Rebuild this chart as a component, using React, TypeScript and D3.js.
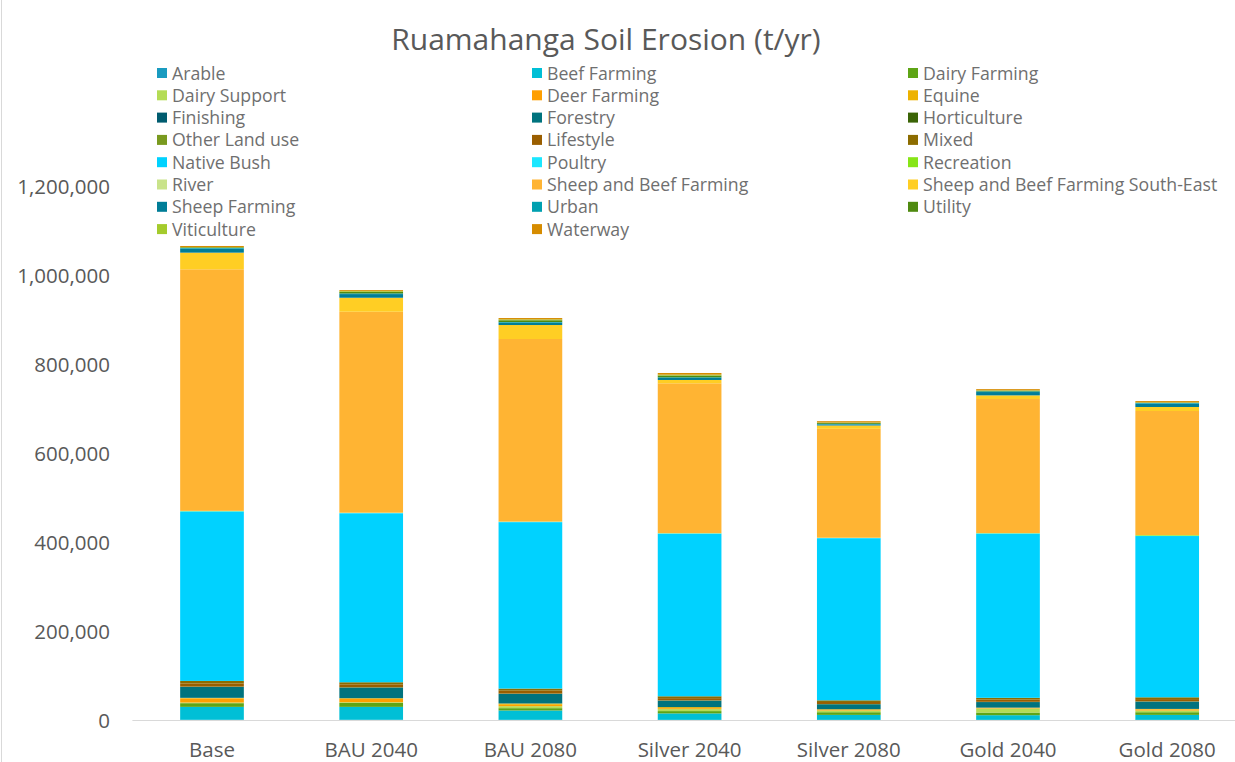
import React from "react";
import * as d3 from "d3";

const title = "Ruamahanga Soil Erosion (t/yr)";
const scenarios = ["Base", "BAU 2040", "BAU 2080", "Silver 2040", "Silver 2080", "Gold 2040", "Gold 2080"];
const landUses = [
  "Arable", "Beef Farming", "Dairy Farming", "Dairy Support", "Deer Farming", "Equine",
  "Finishing", "Forestry", "Horticulture", "Other Land use", "Lifestyle", "Mixed",
  "Native Bush", "Poultry", "Recreation", "River", "Sheep and Beef Farming",
  "Sheep and Beef Farming South-East", "Sheep Farming", "Urban", "Utility", "Viticulture", "Waterway",
];
const colors = [
  "#1A9BC0", "#00BFD6", "#5EA516", "#B4DC55", "#FF9F00", "#EDB200",
  "#005C6F", "#00737E", "#3B6406", "#799A1F", "#9A5E00", "#8C6C00",
  "#00D2FF", "#1BE7FF", "#87E517", "#C9E38A", "#FFB433",
  "#FFCE24", "#007D97", "#00A0B0", "#4F8A10", "#A4CB2C", "#D68C00",
];
// values per land use, in scenario order
const arable = [500, 500, 400, 300, 300, 300, 300];
const beefFarming = [29000, 29000, 21000, 14500, 11200, 10500, 11200];
const dairyFarming = [8300, 9000, 5200, 5200, 6000, 6000, 6000];
const dairySupport = [1500, 1500, 4500, 4500, 3700, 9000, 3700];
const deerFarming = [9000, 7500, 3000, 2000, 1500, 1000, 2500];
const equine = [1500, 1500, 3000, 2500, 1500, 1000, 1200];
const finishing = [0, 0, 0, 0, 0, 0, 0];
const forestry = [24700, 24000, 21700, 14500, 11200, 12500, 16500];
const horticulture = [300, 300, 300, 300, 300, 300, 300];
const otherLandUse = [300, 300, 300, 300, 300, 300, 300];
const lifestyle = [7000, 6500, 6500, 5000, 4500, 5000, 5000];
const mixed = [5700, 4700, 4700, 4200, 3700, 4000, 4000];
const nativeBush = [380400, 379700, 374000, 365400, 364300, 369000, 362400];
const poultry = [1000, 800, 700, 600, 500, 500, 500];
const recreation = [500, 400, 400, 400, 400, 500, 1500];
const river = [300, 300, 300, 300, 300, 300, 300];
const sheepBeef = [542800, 451500, 410200, 336600, 244600, 301100, 278700];
const sheepBeefSE = [37400, 31400, 31400, 7500, 7500, 8200, 9000];
const sheepFarming = [9000, 8200, 5200, 4500, 2500, 7500, 7500];
const urban = [1500, 1500, 1500, 1500, 1200, 1500, 1500];
const utility = [1500, 3500, 4000, 4000, 2000, 1500, 800];
const viticulture = [500, 1700, 2000, 2000, 1000, 800, 500];
const waterway = [2500, 2200, 3000, 3700, 3000, 2700, 3000];

const seriesValues = [
  arable, beefFarming, dairyFarming, dairySupport, deerFarming, equine,
  finishing, forestry, horticulture, otherLandUse, lifestyle, mixed,
  nativeBush, poultry, recreation, river, sheepBeef,
  sheepBeefSE, sheepFarming, urban, utility, viticulture, waterway,
];
const yTicks = [0, 200000, 400000, 600000, 800000, 1000000, 1200000];

const W = 1235;
const H = 762;
const FONT = "'Open Sans', 'Noto Sans', sans-serif";
const TEXT = "#595959";
const LEGEND_TEXT = "#6F6F6F";

export default function App() {
  const rows = scenarios.map((s, i) => {
    const r: Record<string, any> = { scenario: s };
    landUses.forEach((lu, j) => (r[lu] = seriesValues[j][i]));
    return r;
  });
  const stacked = d3.stack<any>().keys(landUses)(rows);

  const x = d3.scaleBand<string>().domain(scenarios).range([132.4, 1246.8]).padding(0);
  const step = x.step();
  const barW = step * 0.4;
  const y = d3.scaleLinear().domain([0, 1200000]).range([720, 186]);
  const fmt = d3.format(",");

  const legendCols = [157, 532, 908];
  const legendY0 = 73;
  const legendStep = 22.3;

  return (
    <svg width={W} height={H} style={{ position: "absolute", left: 0, top: 0, background: "#fff" }}>
      <rect x={0} y={0} width={W} height={H} fill="#fff" />
      <line x1={1.5} x2={1.5} y1={0} y2={H} stroke="#D9D9D9" strokeWidth={1} />
      <text x={606} y={50} textAnchor="middle" fontFamily={FONT} fontSize={30} fill={TEXT}>
        {title}
      </text>
      {landUses.map((lu, i) => {
        const col = i % 3;
        const row = Math.floor(i / 3);
        const cy = legendY0 + row * legendStep;
        return (
          <g key={lu}>
            <rect x={legendCols[col]} y={cy - 5} width={10} height={10} fill={colors[i]} />
            <text x={legendCols[col] + 15} y={cy + 6.5} fontFamily={FONT} fontSize={17.7} fill={LEGEND_TEXT}>
              {lu}
            </text>
          </g>
        );
      })}
      {yTicks.map((t) => (
        <text key={t} x={110} y={y(t) + 7.5} textAnchor="end" fontFamily={FONT} fontSize={20.5} fill={TEXT}>
          {fmt(t)}
        </text>
      ))}
      {stacked.map((layer, j) => (
        <g key={landUses[j]} fill={colors[j]}>
          {layer.map((d, i) => {
            const h = y(d[0]) - y(d[1]);
            if (h <= 0) return null;
            return (
              <rect
                key={i}
                x={(x(scenarios[i]) as number) + (step - barW) / 2}
                y={y(d[1])}
                width={barW}
                height={h}
              />
            );
          })}
        </g>
      ))}
      <line x1={132.4} x2={W} y1={720.5} y2={720.5} stroke="#D9D9D9" strokeWidth={1} />
      {scenarios.map((s) => (
        <text
          key={s}
          x={(x(s) as number) + step / 2}
          y={757}
          textAnchor="middle"
          fontFamily={FONT}
          fontSize={20.5}
          fill={TEXT}
        >
          {s}
        </text>
      ))}
    </svg>
  );
}
